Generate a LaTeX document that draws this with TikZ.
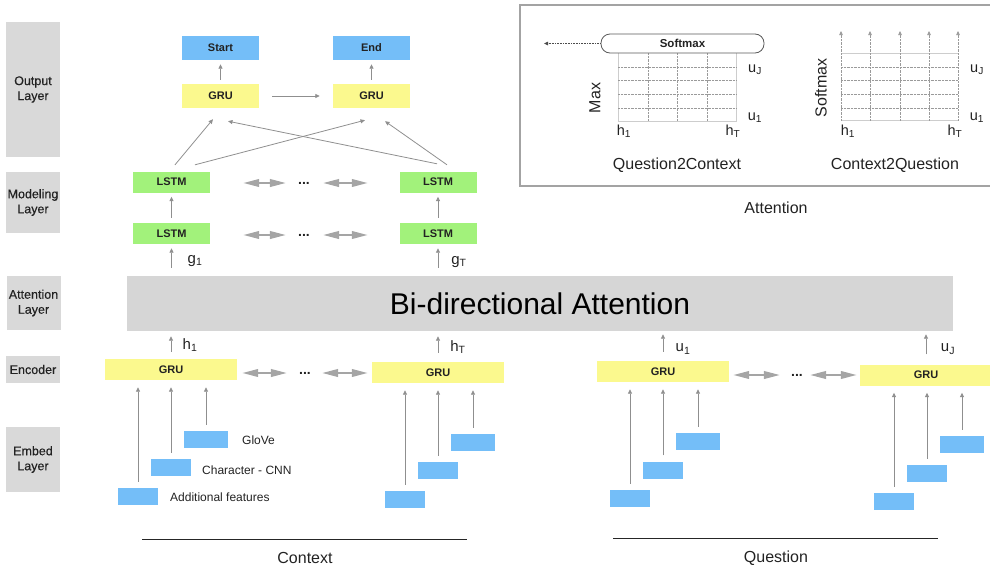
\documentclass[tikz,border=0pt]{standalone}
\usepackage{fontspec}
\setmainfont{Liberation Sans}
\newfontfamily\medfont[FakeBold=0.35]{Liberation Sans}
\usetikzlibrary{arrows.meta}

\definecolor{boxblue}{HTML}{74BEF8}
\definecolor{boxyellow}{HTML}{FBF98E}
\definecolor{boxgreen}{HTML}{A2F27B}
\definecolor{panelgray}{HTML}{D9D9D9}
\definecolor{bargray}{HTML}{D6D6D6}
\definecolor{arrowgray}{HTML}{8F8F8F}
\definecolor{dblgray}{HTML}{A5A5A5}
\definecolor{framegray}{HTML}{A3A3A3}
\definecolor{gridgray}{HTML}{CDCDCD}
\definecolor{dotgray}{HTML}{9A9A9A}
\definecolor{inkgray}{HTML}{222222}

\newcommand{\fsz}[1]{\fontsize{#1}{#1}\selectfont}

\begin{document}
\begin{tikzpicture}[x=1pt, y=-1pt,
  every node/.style={text=inkgray},
  layer/.style={fill=panelgray, inner sep=0pt, minimum width=54pt, align=center,
    font=\medfont\fontsize{12.5}{15}\selectfont},
  unit/.style={inner sep=0pt, minimum width=77pt, minimum height=24pt,
    font=\bfseries\fsz{11}},
  encbox/.style={unit, fill=boxyellow, minimum width=132pt, minimum height=21pt},
  lstmbox/.style={unit, fill=boxgreen, minimum height=21pt},
  embbox/.style={fill=boxblue, minimum width=40pt, minimum height=17pt, inner sep=0pt},
  gembbox/.style={embbox, minimum width=44pt},
  thinarr/.style={draw=arrowgray, line width=0.8pt, -{Triangle[length=4.5pt,width=4pt]}},
  dblarr/.style={draw=dblgray, line width=2.2pt,
    {Triangle[length=16pt,width=7.5pt]}-{Triangle[length=16pt,width=7.5pt]}},
  ellip/.style={font=\bfseries\fsz{14}, inner sep=0pt},
  sym/.style={font=\fsz{15}, inner sep=0pt},
  gsym/.style={font=\fsz{14.5}, inner sep=0pt},
  caption/.style={font=\fsz{16}, inner sep=0pt},
  embtext/.style={font=\fsz{12}, inner sep=0pt, anchor=west},
  fine/.style={draw=dotgray, line width=0.6pt, dash pattern=on 0.6pt off 0.8pt},
  solidgrid/.style={draw=gridgray, line width=0.8pt}
]
\useasboundingbox (0,0) rectangle (990,565);

% ---------- layer captions on the left ----------
\node[layer, minimum height=135pt] (lyOut) at (33,89.5) {Output\\Layer};
\node[layer, minimum height=61pt] (lyMod) at (33,202.5) {Modeling\\Layer};
\node[layer, minimum height=54pt] (lyAtt) at (33.5,303) {Attention\\Layer};
\node[layer, minimum height=27pt] (lyEnc) at (33,369.5) {Encoder};
\node[layer, minimum height=65pt] (lyEmb) at (33,459.5) {Embed\\Layer};

% ---------- output layer ----------
\node[unit, fill=boxblue] (start) at (220.5,48) {Start};
\node[unit, fill=boxblue] (end) at (371.5,48) {End};
\node[unit, fill=boxyellow] (gruA) at (220.5,96) {GRU};
\node[unit, fill=boxyellow] (gruB) at (371.5,96) {GRU};
\draw[thinarr, shorten <=4pt, shorten >=4pt] (gruA) -- (start);
\draw[thinarr, shorten <=4pt, shorten >=4pt] (gruB) -- (end);
\draw[thinarr, shorten <=13pt, shorten >=13pt] (gruA) -- (gruB);

% ---------- modeling layer ----------
\node[lstmbox] (lstmTa) at (171.5,182) {LSTM};
\node[lstmbox] (lstmTb) at (438,182) {LSTM};
\node[lstmbox] (lstmBa) at (171.5,233.5) {LSTM};
\node[lstmbox] (lstmBb) at (438,233.5) {LSTM};
\draw[thinarr, shorten <=5pt, shorten >=4pt] (lstmBa) -- (lstmTa);
\draw[thinarr, shorten <=5pt, shorten >=4pt] (lstmBb) -- (lstmTb);

% crossing connections into the output GRUs
\draw[thinarr] ([xshift=3.5pt,yshift=6.5pt]lstmTa.north) -- ([xshift=-7.5pt,yshift=-11pt]gruA.south);
\draw[thinarr] ([xshift=23.5pt,yshift=6.5pt]lstmTa.north) -- ([xshift=-6.5pt,yshift=-12pt]gruB.south);
\draw[thinarr] ([xshift=-1pt,yshift=7.5pt]lstmTb.north) -- ([xshift=7.5pt,yshift=-13pt]gruA.south);
\draw[thinarr] ([xshift=9pt,yshift=6.5pt]lstmTb.north) -- ([xshift=13.5pt,yshift=-13pt]gruB.south);

% bidirectional links between LSTM cells
\node[ellip] (dotsT) at (304,183) {...};
\node[ellip] (dotsB) at (304,235) {...};
\draw[dblarr, shorten <=33pt, shorten >=12pt] (dotsT.west -| lstmTa.east) -- (dotsT.west);
\draw[dblarr, shorten <=13pt, shorten >=31.5pt] (dotsT.east) -- (dotsT.east -| lstmTb.west);
\draw[dblarr, shorten <=33pt, shorten >=12pt] (dotsB.west -| lstmBa.east) -- (dotsB.west);
\draw[dblarr, shorten <=13pt, shorten >=31.5pt] (dotsB.east) -- (dotsB.east -| lstmBb.west);

% ---------- attention layer ----------
\node[fill=bargray, minimum width=826pt, minimum height=55pt, inner sep=0pt,
      font=\fsz{30}, text=black] (bidaf) at (540,303.5) {Bi-directional Attention};
\draw[thinarr, shorten <=8pt, shorten >=4pt] (lstmBa.south |- bidaf.north) -- (lstmBa.south);
\draw[thinarr, shorten <=8pt, shorten >=4pt] (lstmBb.south |- bidaf.north) -- (lstmBb.south);
\node[sym] (gA) at (195,261) {g\textsubscript{1}};
\node[sym] (gB) at (459,262) {g\textsubscript{T}};

% ---------- encoder ----------
\node[encbox] (encCa) at (171,369.5) {GRU};
\node[encbox] (encCb) at (438,372.5) {GRU};
\node[encbox] (encQa) at (663,371.5) {GRU};
\node[encbox] (encQb) at (926,375) {GRU};

\draw[thinarr, shorten <=7pt, shorten >=5pt] (encCa.north) -- (encCa.north |- bidaf.south);
\draw[thinarr, shorten <=9pt, shorten >=5pt] (encCb.north) -- (encCb.north |- bidaf.south);
\draw[thinarr, shorten <=9pt, shorten >=3pt] (encQa.north) -- (encQa.north |- bidaf.south);
\draw[thinarr, shorten <=10pt, shorten >=3pt] (encQb.north) -- (encQb.north |- bidaf.south);
\node[sym] (hA) at (190,345) {h\textsubscript{1}};
\node[sym] (hB) at (458,347) {h\textsubscript{T}};
\node[sym] (uA) at (683,349) {u\textsubscript{1}};
\node[sym] (uB) at (948,349) {u\textsubscript{J}};

\node[ellip] (dotsC) at (305,373) {...};
\node[ellip] (dotsQ) at (797,375) {...};
\draw[dblarr, shorten <=5pt, shorten >=12pt] (dotsC.west -| encCa.east) -- (dotsC.west);
\draw[dblarr, shorten <=11pt, shorten >=4pt] (dotsC.east) -- (dotsC.east -| encCb.west);
\draw[dblarr, shorten <=4pt, shorten >=11pt] (dotsQ.west -| encQa.east) -- (dotsQ.west);
\draw[dblarr, shorten <=7pt, shorten >=3pt] (dotsQ.east) -- (dotsQ.east -| encQb.west);

% ---------- embedding layer ----------
\node[embbox] (addA) at (138,496.5) {};
\node[embbox] (chrA) at (171,467.5) {};
\node[gembbox] (gloA) at (206,439.5) {};
\node[embbox] (addB) at (405,499.5) {};
\node[embbox] (chrB) at (438,470.5) {};
\node[gembbox] (gloB) at (473,442.5) {};
\node[embbox] (addC) at (630,498.5) {};
\node[embbox] (chrC) at (663,470) {};
\node[gembbox] (gloC) at (698,441.5) {};
\node[embbox] (addD) at (894,501.5) {};
\node[embbox] (chrD) at (927,473.5) {};
\node[gembbox] (gloD) at (962,444.5) {};

\foreach \e/\g in {addA/encCa, chrA/encCa, gloA/encCa,
                   addB/encCb, chrB/encCb, gloB/encCb,
                   addC/encQa, chrC/encQa, gloC/encQa,
                   addD/encQb, chrD/encQb, gloD/encQb}
  \draw[thinarr, shorten <=6pt, shorten >=7pt] (\e.north) -- (\e.north |- \g.south);

\node[embtext] (tGlo) at (242,440) {GloVe};
\node[embtext] (tChr) at (202,470) {Character - CNN};
\node[embtext] (tAdd) at (170,497) {Additional features};

% ---------- sequence brackets ----------
\coordinate (ctxL) at (142,539);
\coordinate (ctxR) at (467,539);
\coordinate (qL) at (613,538);
\coordinate (qR) at (938,538);
\draw[line width=1pt, black!85] (ctxL) -- (ctxR);
\draw[line width=1pt, black!85] (qL) -- (qR);
\node[caption] (tCtx) at (305,558) {Context};
\node[caption] (tQ) at (776,558) {Question};

% ---------- attention panel ----------
\node[draw=framegray, line width=1.5pt, minimum width=480pt, minimum height=181pt,
      inner sep=0pt] (attPanel) at (760,95.5) {};

% query-to-context: max over a similarity grid, then softmax
\draw[solidgrid] (618,53) -- (618,121.5) -- (736,121.5) -- (736,53);
\foreach \gx in {648,677,707} \draw[fine] (\gx,53) -- (\gx,121.5);
\foreach \gy in {67,80.5,94,108} \draw[fine] (618,\gy) -- (736,\gy);
\node[draw=black!65, line width=0.8pt, rounded corners=9pt, fill=white,
      minimum width=163pt, minimum height=19pt, inner sep=0pt,
      font=\bfseries\fsz{11.5}] (smax) at (682.5,43.5) {Softmax};
\coordinate (qcOut) at (544,43.5);
\draw[draw=black!70, line width=0.8pt, dash pattern=on 0.8pt off 0.8pt,
      -{Triangle[length=4pt,width=3.5pt]}] (smax.west) -- (qcOut);
\node[gsym] (uJa) at (755,70) {u\textsubscript{J}};
\node[gsym] (u1a) at (755,118) {u\textsubscript{1}};
\node[gsym] (h1a) at (624,131) {h\textsubscript{1}};
\node[gsym] (hTa) at (733,131) {h\textsubscript{T}};
\node[caption, rotate=90] (tMax) at (595,98) {Max};
\node[caption] (tQ2C) at (677,165) {Question2Context};

% context-to-query: softmax along each column
\draw[solidgrid] (841,53) -- (958,53);
\draw[solidgrid] (841,120.5) -- (958,120.5);
\foreach \gy in {67,80.5,94,108} \draw[fine] (841,\gy) -- (958,\gy);
\foreach \gx in {841,870,900,929,958}
  \draw[fine, -{Triangle[length=4pt,width=3.5pt]}] (\gx,120.5) -- (\gx,31);
\node[gsym] (uJb) at (977,70) {u\textsubscript{J}};
\node[gsym] (u1b) at (977,118) {u\textsubscript{1}};
\node[gsym] (h1b) at (848,131) {h\textsubscript{1}};
\node[gsym] (hTb) at (955,131) {h\textsubscript{T}};
\node[caption, rotate=90] (tSm) at (821,88) {Softmax};
\node[caption] (tC2Q) at (895,165) {Context2Question};

\node[caption] (tAtt) at (776,208) {Attention};

\end{tikzpicture}
\end{document}
